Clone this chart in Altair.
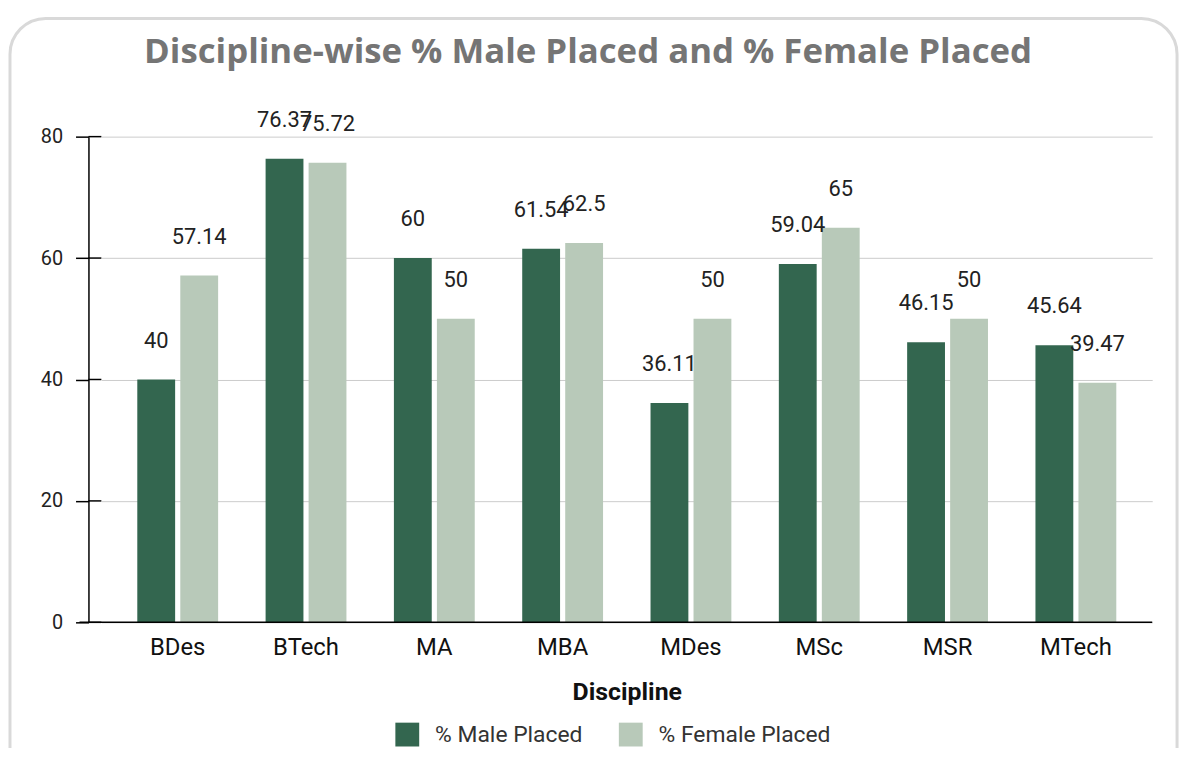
import altair as alt
import pandas as pd

disciplines = ["BDes", "BTech", "MA", "MBA", "MDes", "MSc", "MSR", "MTech"]
male = [40, 76.37, 60, 61.54, 36.11, 59.04, 46.15, 45.64]
female = [57.14, 75.72, 50, 62.5, 50, 65, 50, 39.47]
series = ["% Male Placed", "% Female Placed"]
colors = ["#33664f", "#b8c9b9"]
y_ticks = [0, 20, 40, 60, 80]
title_text = "Discipline-wise % Male Placed and % Female Placed"

rows = []
for d, m, f in zip(disciplines, male, female):
    rows.append({"Discipline": d, "Series": series[0], "Value": m, "Label": f"{m:g}"})
    rows.append({"Discipline": d, "Series": series[1], "Value": f, "Label": f"{f:g}"})
df = pd.DataFrame(rows)
ticks_df = pd.DataFrame({"Value": y_ticks})
one = pd.DataFrame({"a": [0]})

W, H = 1058, 489
FONT = "Roboto"

x_enc = alt.X(
    "Discipline:N", sort=disciplines,
    scale=alt.Scale(paddingInner=0.37, paddingOuter=0.28),
    axis=alt.Axis(title="Discipline", labelAngle=0, ticks=False, domain=False,
                  labelFont=FONT, labelFontSize=24, labelFontWeight="normal", labelColor="#111",
                  labelPadding=13, titleFont=FONT, titleFontSize=25, titleFontWeight="bold",
                  titleColor="#111", titlePadding=21),
)
xo_enc = alt.XOffset("Series:N", sort=series, scale=alt.Scale(domain=series, paddingInner=0.12))
y_enc = alt.Y(
    "Value:Q", scale=alt.Scale(domain=[0, 80], nice=False),
    axis=alt.Axis(values=y_ticks, title=None, offset=13, tickSize=13, tickColor="black",
                  tickWidth=1.5, domainColor="black", domainWidth=1.5, gridColor="#cccccc",
                  labelFont=FONT, labelFontSize=20, labelColor="#222", labelPadding=13),
)
color_enc = alt.Color(
    "Series:N", sort=series, scale=alt.Scale(domain=series, range=colors),
    legend=alt.Legend(title=None, orient="none", legendX=296, legendY=590,
                      direction="horizontal", symbolType="square", symbolSize=576,
                      symbolStrokeWidth=0, labelFontSize=23, labelFont=FONT,
                      labelColor="#333", columnPadding=36, labelOffset=16, labelLimit=400),
)

base = alt.Chart(df)
bars = base.mark_bar().encode(x=x_enc, xOffset=xo_enc, y=y_enc, color=color_enc)
labels = base.mark_text(dy=-39, fontSize=22, font=FONT, color="#222").encode(
    x=x_enc, xOffset=xo_enc, y=y_enc, text="Label:N")

tick_right = alt.Chart(ticks_df).mark_rule(color="black", strokeWidth=1.5).encode(
    x=alt.value(-13), x2=alt.value(0), y=y_enc)
baseline = alt.Chart(one).mark_rule(color="black", strokeWidth=1.5).encode(
    x=alt.value(-22), x2=alt.value(W), y=alt.datum(0))
border = alt.Chart(one).mark_rect(fillOpacity=0, stroke="#d9d9d9", strokeWidth=3,
                                  cornerRadius=36).encode(
    x=alt.value(-92), x2=alt.value(1083), y=alt.value(-119), y2=alt.value(660))
title = alt.Chart(one).mark_text(font="Open Sans", fontSize=35, fontWeight="bold",
                                 color="#757575", baseline="middle").encode(
    x=alt.value(490), y=alt.value(-85), text=alt.value(title_text))

chart = alt.layer(border, bars, tick_right, baseline, labels, title).properties(
    width=W, height=H,
    autosize=alt.AutoSizeParams(type="none"),
    padding={"left": 94, "top": 127, "right": 32, "bottom": 124},
).configure_view(stroke=None)

chart.save("out.html", embed_options={"renderer": "svg", "actions": False})
